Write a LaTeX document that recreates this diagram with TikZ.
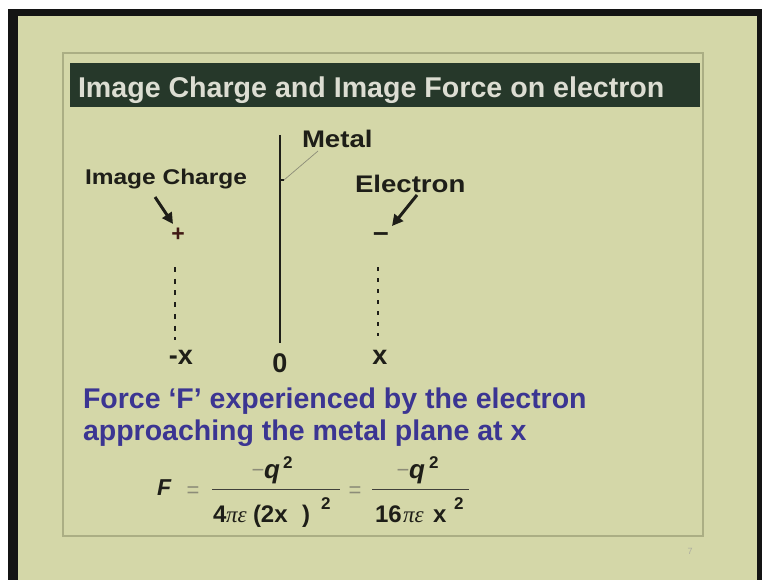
\documentclass[tikz,border=0pt]{standalone}
\usepackage{fontspec}
\setmainfont{Liberation Sans}
\newfontfamily\wfont[FakeStretch=1.15]{Liberation Sans}
\newfontfamily\gkfont{Liberation Serif}
\usetikzlibrary{arrows.meta}
\definecolor{slide}{HTML}{D4D7A8}
\definecolor{titlebg}{HTML}{26382A}
\definecolor{titlefg}{HTML}{DCDDD2}
\definecolor{ink}{HTML}{1E1E18}
\definecolor{blueink}{HTML}{3B3592}
\definecolor{frameline}{HTML}{ABAE84}
\definecolor{faint}{HTML}{8C8C78}
\begin{document}
\begin{tikzpicture}[x=1pt,y=-1pt,
  txt/.style={inner sep=0pt, outer sep=0pt, anchor=base west, text=ink},
  lbl/.style={txt, font=\wfont\bfseries\fontsize{24}{26}\selectfont},
  axl/.style={txt, anchor=base, font=\bfseries\fontsize{27}{29}\selectfont},
  para/.style={txt, text=blueink, font=\bfseries\fontsize{28.5}{30}\selectfont},
  fm/.style={txt, font=\bfseries\fontsize{24}{26}\selectfont},
  fq/.style={txt, font=\bfseries\itshape\fontsize{26}{28}\selectfont},
  fs/.style={txt, font=\bfseries\fontsize{17}{19}\selectfont},
  fg/.style={txt, font=\gkfont\itshape\fontsize{23}{25}\selectfont},
  fthin/.style={txt, anchor=base, text=faint, font=\fontsize{22}{24}\selectfont},
  pointer/.style={ink, line width=3pt, -{Triangle[length=11pt,width=11pt]}},
  bar/.style={ink!85, line width=1pt},
  guide/.style={ink, line width=1.4pt, dash pattern=on 5pt off 6.7pt}]
\useasboundingbox (0,0) rectangle (762,580);
% photo borders and slide
\fill[white] (0,0) rectangle (762,580);
\fill[black!92] (8,9) rectangle (762,580);
\fill[slide] (18,16) rectangle (757,580);
\draw[frameline, line width=1.1pt] (63,53) rectangle (703,536);
% title
\fill[titlebg] (70,63) rectangle (700,107);
\node[txt, text=titlefg, font=\bfseries\fontsize{28.6}{30}\selectfont] (title) at (78,98) {Image Charge and Image Force on electron};
% metal plane
\coordinate (mtop) at (280,135);
\coordinate (mbot) at (280,343);
\draw[ink, line width=2.6pt] (mtop) -- (mbot);
\node[lbl] (metal) at (302,148) {Metal};
\coordinate (mtick) at (280,180);
\coordinate (lead0) at (284,180);
\coordinate (lead1) at (318,151);
\draw[ink, line width=1.2pt] (mtick) -- (lead0);
\draw[faint, line width=0.7pt] (lead0) -- (lead1);
% labels
\node[lbl, font=\wfont\bfseries\fontsize{21.3}{23}\selectfont] (imgc) at (85,185) {Image Charge};
\node[lbl] (elec) at (355,192) {Electron};
% arrows
\coordinate (ia0) at (155,197);
\coordinate (ia1) at (173,224);
\draw[pointer] (ia0) -- (ia1);
\coordinate (ea0) at (417,195);
\coordinate (ea1) at (392,226);
\draw[pointer] (ea0) -- (ea1);
% charges
\node[txt, anchor=base, text=ink!85!red, font=\bfseries\fontsize{23}{25}\selectfont] (plus) at (178,241) {+};
\node[txt, anchor=base, font=\bfseries\fontsize{28}{30}\selectfont] (minus) at (381,241) {–};
% dashed guides
\coordinate (ld0) at (175,267);
\coordinate (ld1) at (175,340);
\draw[guide] (ld0) -- (ld1);
\coordinate (rd0) at (378,267);
\coordinate (rd1) at (378,336);
\draw[guide, line width=1.2pt, dash pattern=on 4pt off 7pt] (rd0) -- (rd1);
% axis labels
\node[axl] (mx) at (181,364) {-x};
\node[axl] (zero) at (280,372) {0};
\node[axl] (px) at (380,364) {x};
% text
\node[para] (p1) at (83,408) {Force ‘F’ experienced by the electron};
\node[para] (p2) at (83,440) {approaching the metal plane at x};
% formula
\node[txt, font=\bfseries\itshape\fontsize{23}{25}\selectfont] (fF) at (157,495) {F};
\node[fthin] (eq1) at (193,497) {=};
\coordinate (b1l) at (212,489);
\coordinate (b1r) at (340,489);
\draw[bar] (b1l) -- (b1r);
\node[fthin] (n1m) at (258,477) {−};
\node[fq] (n1q) at (264,478) {q};
\node[fs] (n1s) at (283,468) {2};
\node[fm] (d1a) at (213,522) {4};
\node[fg] (d1b) at (226,522) {πε};
\node[fm] (d1c) at (253,522) {(2x};
\node[fm] (d1d) at (302,522) {)};
\node[fs] (d1e) at (321,509) {2};
\node[fthin] (eq2) at (355,497) {=};
\coordinate (b2l) at (372,489);
\coordinate (b2r) at (469,489);
\draw[bar] (b2l) -- (b2r);
\node[fthin] (n2m) at (403,477) {−};
\node[fq] (n2q) at (409,478) {q};
\node[fs] (n2s) at (429,468) {2};
\node[fm] (d2a) at (375,522) {16};
\node[fg] (d2b) at (403,522) {πε};
\node[fm] (d2c) at (433,522) {x};
\node[fs] (d2d) at (454,509) {2};
% page number
\node[txt, anchor=base, text=faint!70, font=\fontsize{9}{10}\selectfont] (pg) at (690,554) {7};
\end{tikzpicture}
\end{document}
